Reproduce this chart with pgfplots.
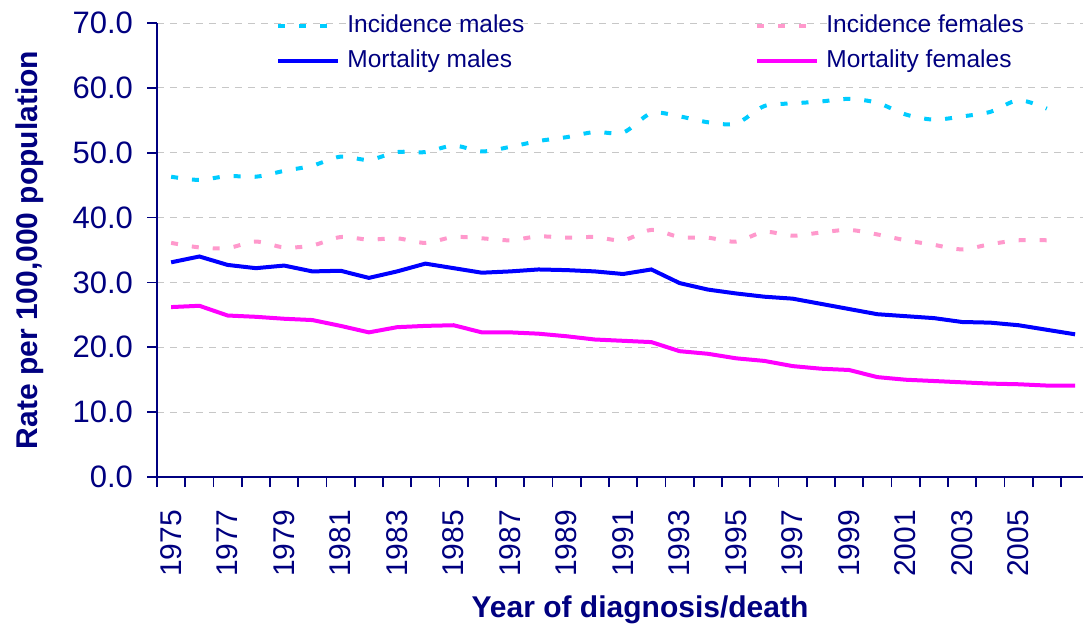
\documentclass[border=0pt]{standalone}
\usepackage{fontspec}
\setmainfont{Liberation Sans}
\usepackage{pgfplots}
\pgfplotsset{compat=1.18}
\definecolor{navy}{RGB}{0,0,128}
\definecolor{incm}{RGB}{0,204,255}
\definecolor{incf}{RGB}{255,153,204}
\definecolor{mortm}{RGB}{0,0,255}
\definecolor{mortf}{RGB}{255,0,255}
\begin{document}
\begin{tikzpicture}
\useasboundingbox (-78.5pt,-75.5pt) rectangle (463pt,238.5pt);
\begin{axis}[
    at={(0,0)}, anchor=south west, scale only axis,
    width=463pt, height=227pt,
    xmin=1974.5, xmax=2007.28, ymin=0, ymax=70,
    axis x line=bottom, axis y line=left,
    axis line style={-, draw=navy, line width=0.8pt},
    tick align=outside, tick style={draw=navy, line width=0.8pt},
    major tick length=5pt,
    xtick={1974.5,1975.5,...,2006.5}, xticklabels={},
    extra x ticks={1975,1977,...,2005},
    extra x tick style={major tick length=0pt,
      xticklabel style={/pgf/number format/1000 sep={}}},
    xticklabel style={rotate=90, anchor=east, font=\fontsize{15}{18}\selectfont,
      /pgf/number format/1000 sep={}},
    xticklabel shift=13pt, yticklabel shift=3.5pt,
    ytick={0,10,...,70},
    yticklabel style={/pgf/number format/fixed, /pgf/number format/fixed zerofill,
      /pgf/number format/precision=1},
    /pgf/number format/assume math mode=true,
    tick label style={font=\fontsize{15.5}{18}\selectfont, text=navy},
    ymajorgrids, grid style={draw=black!22, dash pattern=on 3.5pt off 3pt, line width=0.5pt},
    xlabel={Year of diagnosis/death}, ylabel={Rate per 100,000 population},
    label style={font=\bfseries\fontsize{15}{18}\selectfont, text=navy},
    xlabel style={at={(axis description cs:0.5216,-0.2935)}, anchor=center},
    ylabel style={at={(axis description cs:-0.137,0.5)}, anchor=center},
    legend columns=2, legend cell align=left,
    legend style={at={(axis description cs:0.122,0.9538)}, anchor=west,
      draw=none, fill=none, font=\fontsize{12.25}{14}\selectfont, text=navy,
      /tikz/every odd column/.append style={column sep=2.5pt},
      /tikz/every even column/.append style={column sep=114.5pt}, row sep=3.5pt,
      nodes={inner sep=1pt, text height=9pt, text depth=3pt}},
    legend image code/.code={\draw[#1] (0pt,0pt) -- (30pt,0pt);},
  ]
  % incidence males
  \addplot[incm, line width=2pt, dash pattern=on 3.5pt off 7pt, smooth] coordinates {
    (1975,46.3)(1976,45.8)(1977,46.4)(1978,46.3)(1979,47.2)(1980,48.0)(1981,49.4)(1982,48.9)
    (1983,50.1)(1984,50.1)(1985,51.1)(1986,50.2)(1987,50.9)(1988,51.8)(1989,52.4)(1990,53.2)
    (1991,53.1)(1992,56.1)(1993,55.6)(1994,54.7)(1995,54.5)(1996,57.2)(1997,57.6)(1998,57.9)
    (1999,58.3)(2000,57.7)(2001,55.9)(2002,55.1)(2003,55.6)(2004,56.3)(2005,58.1)(2006,56.8)};
  \addlegendentry{Incidence males}
  % incidence females
  \addplot[incf, line width=2pt, dash pattern=on 3.5pt off 7pt, smooth] coordinates {
    (1975,36.1)(1976,35.4)(1977,35.3)(1978,36.3)(1979,35.4)(1980,35.7)(1981,37.0)(1982,36.6)
    (1983,36.8)(1984,36.1)(1985,37.0)(1986,36.8)(1987,36.5)(1988,37.1)(1989,36.9)(1990,37.0)
    (1991,36.5)(1992,38.1)(1993,37.0)(1994,36.9)(1995,36.3)(1996,37.8)(1997,37.2)(1998,37.7)
    (1999,38.1)(2000,37.4)(2001,36.5)(2002,35.8)(2003,35.1)(2004,35.9)(2005,36.5)(2006,36.5)};
  \addlegendentry{Incidence females}
  % mortality males
  \addplot[mortm, line width=2pt] coordinates {
    (1975,33.1)(1976,34.0)(1977,32.7)(1978,32.2)(1979,32.6)(1980,31.7)(1981,31.8)(1982,30.7)
    (1983,31.7)(1984,32.9)(1985,32.2)(1986,31.5)(1987,31.7)(1988,32.0)(1989,31.9)(1990,31.7)
    (1991,31.3)(1992,32.0)(1993,29.9)(1994,28.9)(1995,28.3)(1996,27.8)(1997,27.5)(1998,26.7)
    (1999,25.9)(2000,25.1)(2001,24.8)(2002,24.5)(2003,23.9)(2004,23.8)(2005,23.4)(2006,22.7)
    (2007,22.0)};
  \addlegendentry{Mortality males}
  % mortality females
  \addplot[mortf, line width=2pt] coordinates {
    (1975,26.2)(1976,26.4)(1977,24.9)(1978,24.7)(1979,24.4)(1980,24.2)(1981,23.3)(1982,22.3)
    (1983,23.1)(1984,23.3)(1985,23.4)(1986,22.3)(1987,22.3)(1988,22.1)(1989,21.7)(1990,21.2)
    (1991,21.0)(1992,20.8)(1993,19.4)(1994,19.0)(1995,18.3)(1996,17.9)(1997,17.1)(1998,16.7)
    (1999,16.5)(2000,15.4)(2001,15.0)(2002,14.8)(2003,14.6)(2004,14.4)(2005,14.3)(2006,14.1)
    (2007,14.1)};
  \addlegendentry{Mortality females}
\end{axis}
\end{tikzpicture}
\end{document}
